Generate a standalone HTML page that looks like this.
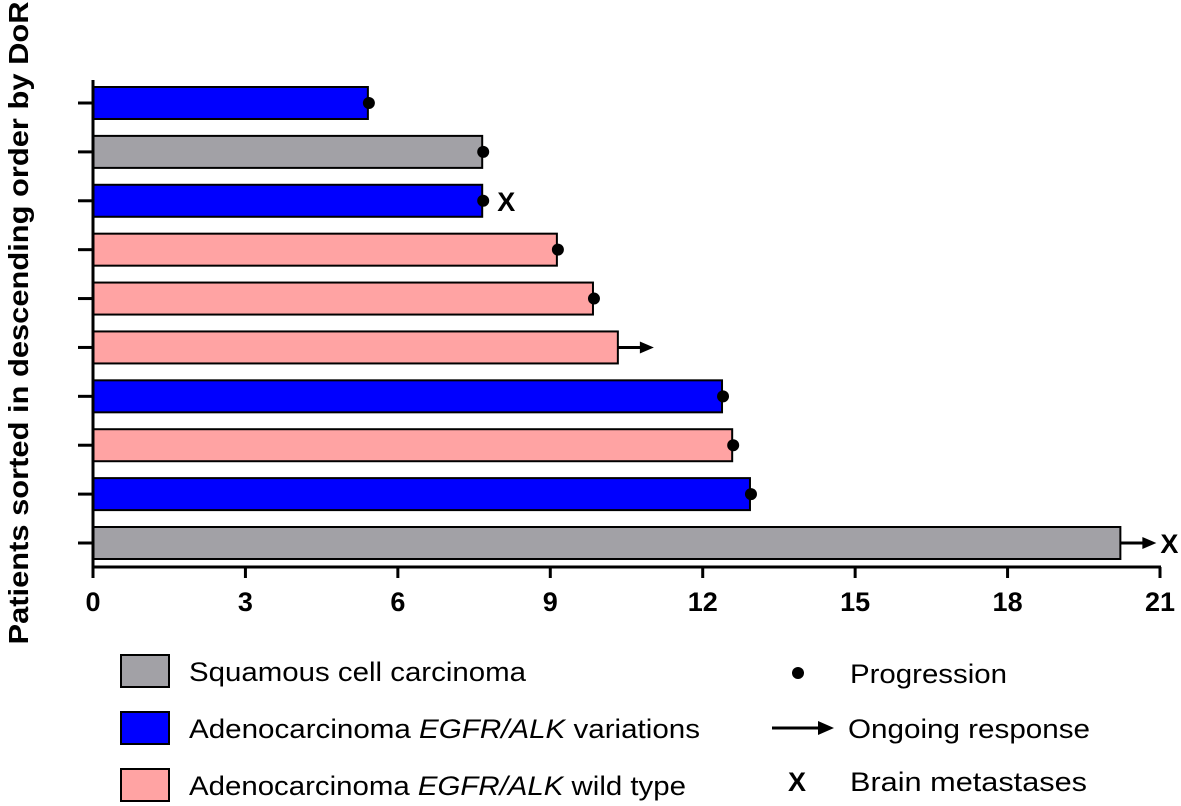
<!DOCTYPE html>
<html><head><meta charset="utf-8"><style>
body{margin:0;background:#fff;}
svg{display:block;font-family:"Liberation Sans",Arial,sans-serif;}
</style></head><body>
<svg id="chart" width="1181" height="806">
<g id="bars"></g>
<g id="axes"></g>
<text transform="translate(28,323) rotate(-90)" text-anchor="middle" font-size="28" font-weight="bold" textLength="643" lengthAdjust="spacingAndGlyphs">Patients sorted in descending order by DoR</text>
<g font-size="27">
 <g><rect x="121" y="655" width="48" height="32" fill="#a2a1a6" stroke="#000" stroke-width="2"/><text x="189" y="681" textLength="337" lengthAdjust="spacingAndGlyphs">Squamous cell carcinoma</text></g>
 <g><rect x="121" y="712" width="48" height="32" fill="#0000ff" stroke="#000" stroke-width="2"/><text x="189" y="738" textLength="511" lengthAdjust="spacingAndGlyphs">Adenocarcinoma <tspan font-style="italic">EGFR/ALK</tspan> variations</text></g>
 <g><rect x="121" y="769" width="48" height="32" fill="#ffa3a3" stroke="#000" stroke-width="2"/><text x="189" y="795" textLength="497" lengthAdjust="spacingAndGlyphs">Adenocarcinoma <tspan font-style="italic">EGFR/ALK</tspan> wild type</text></g>
 <g><circle cx="798" cy="673" r="6" fill="#000"/><text x="850" y="683" textLength="157" lengthAdjust="spacingAndGlyphs">Progression</text></g>
 <g><line x1="772" y1="728" x2="822" y2="728" stroke="#000" stroke-width="3"/><polygon points="834,728 818,721 818,735" fill="#000"/><text x="848" y="738" textLength="242" lengthAdjust="spacingAndGlyphs">Ongoing response</text></g>
 <g><text x="788" y="791" font-weight="bold">X</text><text x="850" y="791" textLength="237" lengthAdjust="spacingAndGlyphs">Brain metastases</text></g>
</g>
</svg>
<script>
const durations=[5.41,7.66,7.66,9.13,9.84,10.33,12.38,12.58,12.93,20.22];
const types=["egfr","squamous","egfr","wild","wild","wild","egfr","wild","egfr","squamous"];
const events=["progression","progression","progression","progression","progression","ongoing","progression","progression","progression","ongoing"];
const brainMets=[false,false,true,false,false,false,false,false,false,true];
const xTicks=[0,3,6,9,12,15,18,21];
const colors={squamous:"#a2a1a6",egfr:"#0000ff",wild:"#ffa3a3"};
const NS="http://www.w3.org/2000/svg";
const x=v=>93+v*(1160-93)/21;
const y=i=>103+i*(543-103)/(durations.length-1);
function mk(t,a,p){const e=document.createElementNS(NS,t);for(const k in a)e.setAttribute(k,a[k]);p.appendChild(e);return e;}
const bars=document.getElementById('bars'),axes=document.getElementById('axes');
durations.forEach((d,i)=>{
 const r=mk('rect',{x:x(0),y:y(i)-16,width:x(d)-x(0),height:32,fill:colors[types[i]],stroke:'#000','stroke-width':2},bars);
 
 
 if(events[i]==='progression'){
  const c=mk('circle',{cx:x(d)+1,cy:y(i),r:6,fill:'#000'},bars);
  
  
 } else {
  const g=mk('g',{},bars);
  
  
  mk('line',{x1:x(d),y1:y(i),x2:x(d)+26,y2:y(i),stroke:'#000','stroke-width':3},g);
  mk('polygon',{points:`${x(d)+36},${y(i)} ${x(d)+22},${y(i)-6} ${x(d)+22},${y(i)+6}`,fill:'#000'},g);
 }
 if(brainMets[i]){
  const t=mk('text',{x:x(d)+(events[i]==='ongoing'?40:15),y:y(i)+10,'font-size':27,'font-weight':'bold'},bars);
  t.textContent='X';
  
  
 }
 const tk=mk('line',{x1:78,y1:y(i),x2:93,y2:y(i),stroke:'#000','stroke-width':3},axes);
 
 
});
mk('line',{x1:93,y1:80,x2:93,y2:568,stroke:'#000','stroke-width':3},axes);
mk('line',{x1:92,y1:567,x2:1161,y2:567,stroke:'#000','stroke-width':3},axes);
xTicks.forEach(v=>{
 const l=mk('line',{x1:x(v),y1:567,x2:x(v),y2:578,stroke:'#000','stroke-width':3},axes);
 
 
 const t=mk('text',{x:x(v),y:611,'text-anchor':'middle','font-size':27,'font-weight':'bold'},axes);
 t.textContent=v;
 
 
});
</script>
</body></html>
